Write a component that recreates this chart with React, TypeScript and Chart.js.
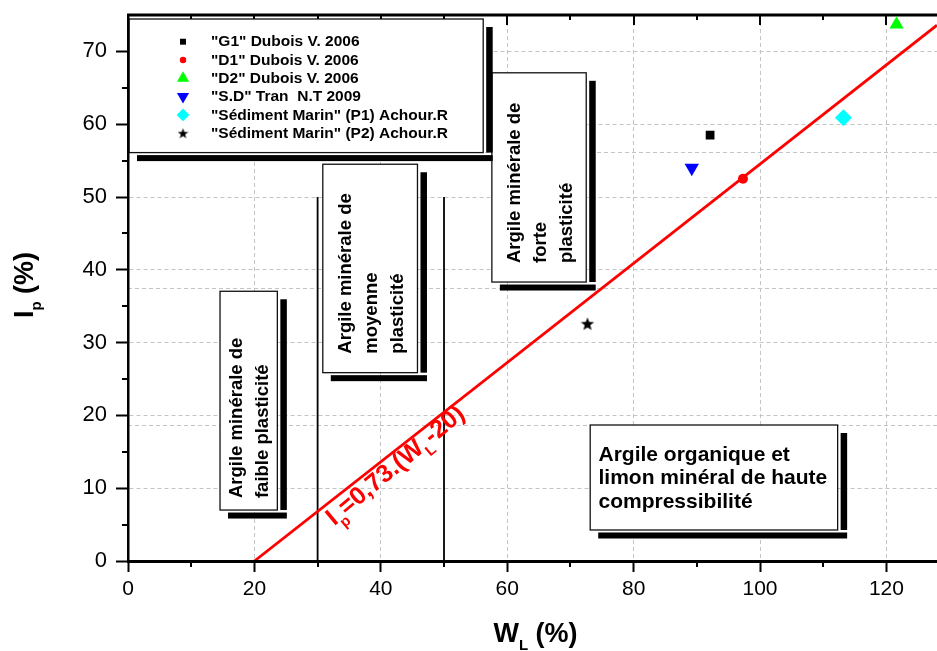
import React, { useEffect, useRef } from 'react';
import { Chart, registerables } from 'chart.js';
import { drawPoint } from 'chart.js/helpers';

Chart.register(...registerables);

const FONT = "'Liberation Sans', Arial, Helvetica, sans-serif";

// ---------- data ----------
const seriesNames = [
  '"G1" Dubois V. 2006',
  '"D1" Dubois V. 2006',
  '"D2" Dubois V. 2006',
  '"S.D" Tran  N.T 2009',
  '"Sédiment Marin" (P1) Achour.R',
  '"Sédiment Marin" (P2) Achour.R',
];
const seriesWL = [92.1, 97.3, 121.6, 89.2, 113.2, 72.7];
const seriesIP = [58.5, 52.5, 73.7, 54.0, 60.9, 32.6];

const aLineWL = [20, 128];
const aLineIP = [0, 73.6];

const limitWL = [30, 50];
const limitIP = [0, 50];

const xTickValues = [0, 20, 40, 60, 80, 100, 120];
const xMinorValues = [10, 30, 50, 70, 90, 110];
const yTickValues = [0, 10, 20, 30, 40, 50, 60, 70];
const yMinorValues = [5, 15, 25, 35, 45, 55, 65];

const zoneFaible = ['Argile minérale de', 'faible plasticité'];
const zoneMoyenne = ['Argile minérale de', 'moyenne', 'plasticité'];
const zoneForte = ['Argile minérale de', 'forte', 'plasticité'];
const zoneOrganique = ['Argile organique et', 'limon minéral de haute', 'compressibilité'];

// ---------- styles / layout ----------
const seriesStyles = [
  { pointStyle: 'rect', color: '#000000', radius: 6.2, rotation: 0, legendRadius: 4.2 },
  { pointStyle: 'circle', color: '#ff0000', radius: 5, rotation: 0, legendRadius: 3.2 },
  { pointStyle: 'triangle', color: '#00ff00', radius: 8.2, rotation: 0, legendRadius: 7 },
  { pointStyle: 'triangle', color: '#0000ff', radius: 8.3, rotation: 180, legendRadius: 7 },
  { pointStyle: 'rectRot', color: '#00ffff', radius: 8.5, rotation: 0, legendRadius: 6.4 },
  { pointStyle: 'star', color: '#000000', radius: 14, rotation: 0, legendRadius: 11 },
];

// boxes in axis units (like annotations)
const legendBox = { L: 0, R: 56.2, T: 74.45, B: 56.1 };
const zoneBoxes = [
  { L: 14.56, R: 23.63, T: 37.05, B: 7.0, rotated: true, pad: 12, lines: zoneFaible },
  { L: 30.82, R: 45.8, T: 54.5, B: 25.87, rotated: true, pad: 19, lines: zoneMoyenne },
  { L: 57.57, R: 72.5, T: 67.06, B: 38.32, rotated: true, pad: 19, lines: zoneForte },
  { L: 73.13, R: 112.28, T: 18.68, B: 4.26, rotated: false, pad: 8.3, lines: zoneOrganique },
];
const eqStartWL = 30.4;

function makeStar(size: number, color: string) {
  const c = document.createElement('canvas');
  c.width = size;
  c.height = size;
  const g = c.getContext('2d')!;
  const cx = size / 2;
  const cy = size / 2 + size * 0.05;
  const R = size / 2;
  const r = R * 0.42;
  g.beginPath();
  for (let i = 0; i < 10; i++) {
    const a = -Math.PI / 2 + (i * Math.PI) / 5;
    const rr = i % 2 === 0 ? R : r;
    g.lineTo(cx + rr * Math.cos(a), cy + rr * Math.sin(a));
  }
  g.closePath();
  g.fillStyle = color;
  g.fill();
  return c;
}

type Part = { t: string; sub?: boolean };
function richWidth(ctx: CanvasRenderingContext2D, parts: Part[], size: number, subSize: number) {
  let w = 0;
  for (const p of parts) {
    ctx.font = `bold ${p.sub ? subSize : size}px ${FONT}`;
    w += ctx.measureText(p.t).width;
  }
  return w;
}
function drawRich(ctx: CanvasRenderingContext2D, parts: Part[], x: number, y: number, size: number, subSize: number, drop: number) {
  let cx = x;
  for (const p of parts) {
    ctx.font = `bold ${p.sub ? subSize : size}px ${FONT}`;
    ctx.fillText(p.t, cx, y + (p.sub ? drop : 0));
    cx += ctx.measureText(p.t).width;
  }
}

function shadowBox(ctx: CanvasRenderingContext2D, L: number, T: number, R: number, B: number) {
  ctx.fillStyle = '#000';
  ctx.fillRect(R + 3, T + 8, 6.5, B - T - 8);
  ctx.fillRect(L + 8, B + 2.5, R + 9.5 - (L + 8), 6);
  ctx.fillStyle = '#fff';
  ctx.fillRect(L, T, R - L, B - T);
  ctx.strokeStyle = '#111';
  ctx.lineWidth = 1.3;
  ctx.strokeRect(L, T, R - L, B - T);
}

export default function App() {
  const ref = useRef<HTMLCanvasElement | null>(null);

  useEffect(() => {
    if (!ref.current) return;
    const starBig = makeStar(seriesStyles[5].radius, seriesStyles[5].color);
    const starSmall = makeStar(seriesStyles[5].legendRadius, seriesStyles[5].color);

    const pointDatasets = seriesNames.map((name, i) => {
      const st = seriesStyles[i];
      return {
        type: 'scatter' as const,
        label: name,
        data: [{ x: seriesWL[i], y: seriesIP[i] }],
        pointStyle: st.pointStyle === 'star' ? starBig : st.pointStyle,
        pointRadius: st.radius,
        pointRotation: st.rotation,
        backgroundColor: st.color,
        borderColor: st.color,
        borderWidth: 0,
        showLine: false,
        clip: false as any,
      };
    });

    const lineDatasets: any[] = [
      {
        type: 'scatter',
        label: 'A-line',
        data: aLineWL.map((v, i) => ({ x: v, y: aLineIP[i] })),
        showLine: true,
        borderColor: '#ff0000',
        borderWidth: 2.8,
        pointRadius: 0,
      },
      ...limitWL.map((w) => ({
        type: 'scatter',
        label: 'limit ' + w,
        data: limitIP.map((v) => ({ x: w, y: v })),
        showLine: true,
        borderColor: '#000',
        borderWidth: 1.8,
        pointRadius: 0,
      })),
    ];

    const decor = {
      id: 'decor',
      beforeDatasetsDraw(chart: any) {
        const { ctx, chartArea: ca, scales } = chart;
        const sx = scales.x;
        const sy = scales.y;
        ctx.save();
        // extra faint dashed lines (second grid layer)
        ctx.strokeStyle = '#c4c4c4';
        ctx.lineWidth = 1;
        ctx.setLineDash([4, 3]);
        for (let k = 1; k < 4; k++) {
          const yy = Math.round(ca.top + ((ca.bottom - ca.top) * k) / 4) + 0.5;
          ctx.beginPath();
          ctx.moveTo(ca.left, yy);
          ctx.lineTo(ca.right, yy);
          ctx.stroke();
        }
        ctx.setLineDash([]);
        // top axis
        ctx.strokeStyle = '#000';
        ctx.lineWidth = 3;
        ctx.beginPath();
        ctx.moveTo(ca.left - 1, ca.top);
        ctx.lineTo(ca.right, ca.top);
        ctx.stroke();
        ctx.lineWidth = 2;
        for (const v of xTickValues) {
          const px = Math.round(sx.getPixelForValue(v));
          ctx.beginPath();
          ctx.moveTo(px, ca.top);
          ctx.lineTo(px, ca.top + 10);
          ctx.stroke();
        }
        for (const v of xMinorValues) {
          const px = Math.round(sx.getPixelForValue(v));
          ctx.beginPath();
          ctx.moveTo(px, ca.top);
          ctx.lineTo(px, ca.top + 5);
          ctx.stroke();
        }
        // zone boxes
        for (const b of zoneBoxes) {
          const L = sx.getPixelForValue(b.L);
          const R = sx.getPixelForValue(b.R);
          const T = sy.getPixelForValue(b.T);
          const B = sy.getPixelForValue(b.B);
          shadowBox(ctx, L, T, R, B);
          ctx.fillStyle = '#000';
          if (b.rotated) {
            ctx.font = `bold 18.5px ${FONT}`;
            ctx.textAlign = 'left';
            ctx.textBaseline = 'middle';
            const n = b.lines.length;
            const cxm = (L + R) / 2 + 1.5;
            b.lines.forEach((ln, i) => {
              ctx.save();
              ctx.translate(cxm + (i - (n - 1) / 2) * 26, B - b.pad);
              ctx.rotate(-Math.PI / 2);
              ctx.fillText(ln, 0, 0);
              ctx.restore();
            });
          } else {
            ctx.font = `bold 21px ${FONT}`;
            ctx.textAlign = 'left';
            ctx.textBaseline = 'middle';
            const n = b.lines.length;
            const cym = (T + B) / 2 + 1;
            b.lines.forEach((ln, i) => {
              ctx.fillText(ln, L + b.pad, cym + (i - (n - 1) / 2) * 23.3);
            });
          }
        }
        // legend
        {
          const L = sx.getPixelForValue(legendBox.L) + 1;
          const R = sx.getPixelForValue(legendBox.R);
          const T = sy.getPixelForValue(legendBox.T);
          const B = sy.getPixelForValue(legendBox.B);
          shadowBox(ctx, L, T, R, B);
          ctx.font = `bold 15.5px ${FONT}`;
          ctx.textAlign = 'left';
          ctx.textBaseline = 'middle';
          seriesNames.forEach((name, i) => {
            const st = seriesStyles[i];
            const yy = T + 22.7 + i * 18.3;
            const xx = L + 54;
            ctx.fillStyle = st.color;
            if (st.pointStyle === 'star') {
              const s = st.legendRadius;
              ctx.drawImage(starSmall, xx - s / 2, yy - s / 2, s, s);
            } else {
              drawPoint(ctx, { pointStyle: st.pointStyle as any, rotation: st.rotation, radius: st.legendRadius, borderWidth: 0 }, xx, yy);
            }
            ctx.fillStyle = '#000';
            ctx.fillText(name, L + 82, yy + 0.5);
          });
        }
        ctx.restore();
      },
      afterDatasetsDraw(chart: any) {
        const { ctx, scales } = chart;
        const sx = scales.x;
        const sy = scales.y;
        // equation label along the A-line
        const x0 = sx.getPixelForValue(aLineWL[0]);
        const y0 = sy.getPixelForValue(aLineIP[0]);
        const x1 = sx.getPixelForValue(aLineWL[1]);
        const y1 = sy.getPixelForValue(aLineIP[1]);
        const ang = Math.atan2(y1 - y0, x1 - x0);
        const t = (eqStartWL - aLineWL[0]) / (aLineWL[1] - aLineWL[0]);
        const px = x0 + (x1 - x0) * t;
        const py = y0 + (y1 - y0) * t;
        ctx.save();
        ctx.translate(px, py);
        ctx.rotate(ang - 0.03);
        ctx.fillStyle = '#ff0000';
        ctx.textAlign = 'left';
        ctx.textBaseline = 'alphabetic';
        drawRich(
          ctx,
          [{ t: 'I' }, { t: 'p', sub: true }, { t: '=0,73.(W' }, { t: 'L', sub: true }, { t: '-20)' }],
          0,
          22,
          25,
          15,
          8
        );
        ctx.restore();
      },
      afterDraw(chart: any) {
        const { ctx, chartArea: ca, scales } = chart;
        const sx = scales.x;
        const sy = scales.y;
        ctx.save();
        ctx.strokeStyle = '#000';
        ctx.lineWidth = 2;
        for (const v of xMinorValues) {
          const px = Math.round(sx.getPixelForValue(v));
          ctx.beginPath();
          ctx.moveTo(px, ca.bottom);
          ctx.lineTo(px, ca.bottom + 6);
          ctx.stroke();
        }
        for (const v of yMinorValues) {
          const py = Math.round(sy.getPixelForValue(v));
          ctx.beginPath();
          ctx.moveTo(ca.left, py);
          ctx.lineTo(ca.left - 6, py);
          ctx.stroke();
        }
        // axis titles
        ctx.fillStyle = '#000';
        ctx.textAlign = 'left';
        ctx.textBaseline = 'alphabetic';
        const xParts: Part[] = [{ t: 'W' }, { t: 'L', sub: true }, { t: ' (%)' }];
        const xw = richWidth(ctx, xParts, 27, 15);
        drawRich(ctx, xParts, (ca.left + ca.right) / 2 + 3 - xw / 2, 641.5, 27, 15, 8);
        const yParts: Part[] = [{ t: 'I' }, { t: 'p', sub: true }, { t: ' (%)' }];
        const yw = richWidth(ctx, yParts, 27, 15);
        ctx.translate(33, (ca.top + ca.bottom) / 2 - 3 + yw / 2);
        ctx.rotate(-Math.PI / 2);
        drawRich(ctx, yParts, 0, 0, 27, 15, 8);
        ctx.restore();
      },
    };

    const chart = new Chart(ref.current, {
      type: 'scatter',
      data: { datasets: [...lineDatasets, ...pointDatasets] as any },
      options: {
        responsive: false,
        animation: false,
        events: [],
        layout: { autoPadding: false, padding: { left: 0, right: 0, top: 15, bottom: 0 } },
        plugins: { legend: { display: false }, tooltip: { enabled: false }, title: { display: false } },
        scales: {
          x: {
            type: 'linear',
            position: 'bottom',
            min: 0,
            max: 128,
            afterBuildTicks: (s: any) => {
              s.ticks = xTickValues.map((v) => ({ value: v }));
            },
            afterFit: (s: any) => {
              s.height = 90;
              s.paddingRight = 0;
              s.paddingLeft = 0;
            },
            ticks: { color: '#000', font: { family: FONT, size: 21 }, padding: 5, maxRotation: 0, autoSkip: false },
            grid: { color: '#c4c4c4', lineWidth: 1, drawTicks: true, tickLength: 11, tickColor: '#000', tickWidth: 2 },
            border: { display: true, color: '#000', width: 3, dash: [4, 3], z: 1 },
          },
          y: {
            type: 'linear',
            position: 'left',
            min: 0,
            max: 75,
            afterBuildTicks: (s: any) => {
              s.ticks = yTickValues.map((v) => ({ value: v }));
            },
            afterFit: (s: any) => {
              s.width = 128;
              s.paddingTop = 0;
              s.paddingBottom = 0;
            },
            ticks: { color: '#000', font: { family: FONT, size: 22 }, padding: 9, autoSkip: false },
            grid: { color: '#c4c4c4', lineWidth: 1, drawTicks: true, tickLength: 12, tickColor: '#000', tickWidth: 2 },
            border: { display: true, color: '#000', width: 2.5, dash: [4, 3], z: 1 },
          },
        },
      } as any,
      plugins: [decor],
    });
    return () => chart.destroy();
  }, []);

  return (
    <div style={{ position: 'absolute', left: 0, top: 0, width: 937, height: 651, background: '#fff' }}>
      <canvas ref={ref} width={937} height={651} style={{ display: 'block' }} />
    </div>
  );
}
